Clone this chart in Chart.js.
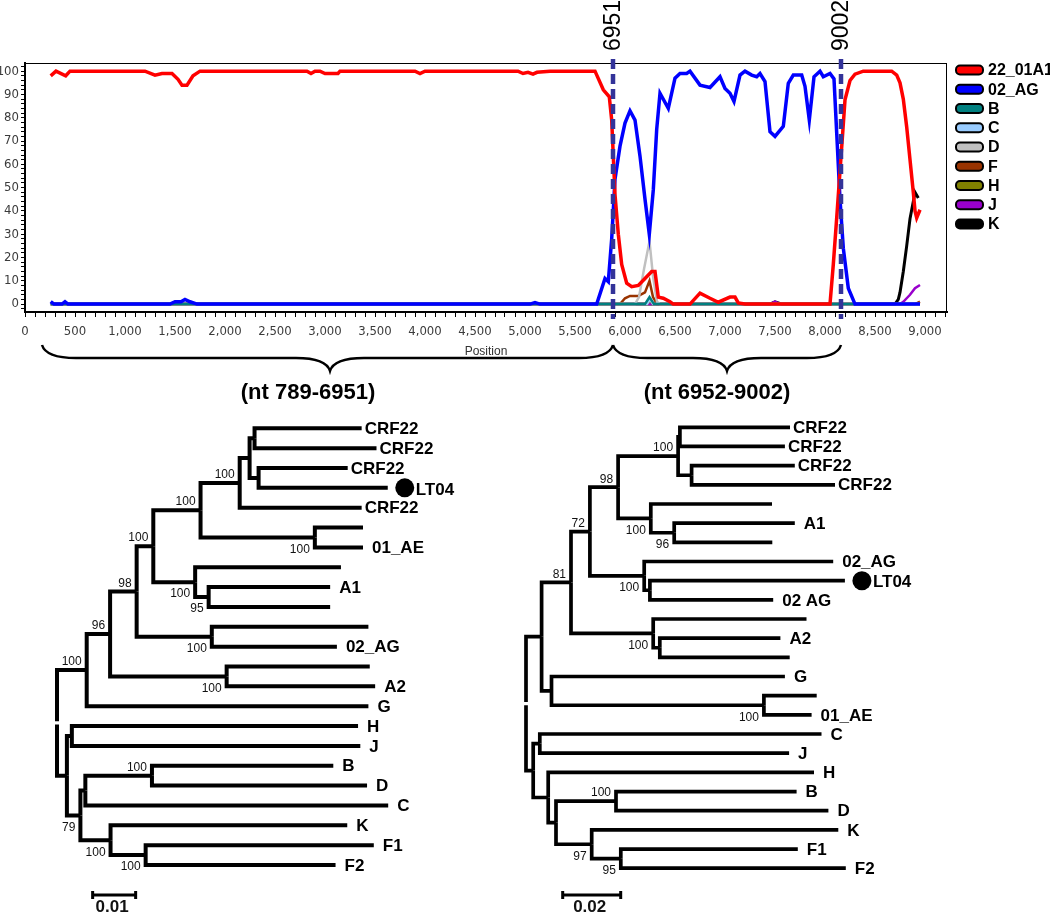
<!DOCTYPE html>
<html>
<head>
<meta charset="utf-8">
<script src="https://cdn.jsdelivr.net/npm/chart.js@4.4.1/dist/chart.umd.min.js"></script>
<style>
  html, body { margin: 0; padding: 0; background: #fff; }
  #wrap { position: relative; width: 1050px; height: 914px; overflow: hidden; }
  canvas { position: absolute; }
</style>
</head>
<body>
<div id="wrap">
  <canvas id="scan" width="1050" height="410" style="left:0;top:0"></canvas>
  <canvas id="treeL" width="500" height="504" style="left:0;top:410px"></canvas>
  <canvas id="treeR" width="550" height="504" style="left:500px;top:410px"></canvas>
</div>
<script>
// ---- bootscan data (position, % of permuted trees) ----
const seriesNames = ['22_01A1', '02_AG', 'B', 'C', 'D', 'F', 'H', 'J', 'K'];
const seriesColors = ['#ff0000', '#0000ff', '#008080', '#99ccff', '#c0c0c0', '#993300', '#808000', '#9900cc', '#000000'];

const s22_01A1 = [[257,98],[310,100],[407,98],[450,100],[1200,100],[1300,98.3],[1370,99],[1470,99],[1530,96.5],
  [1570,94],[1620,94],[1680,98],[1750,100],[2820,100],[2860,99],[2900,100],[2950,100],[3000,99],[3130,99],[3150,100],
  [3900,100],[3950,99],[4000,100],[4930,100],[4980,99],[5030,99.5],[5080,98.7],[5120,99.5],[5250,100],[5700,100],
  [5783,92],[5843,89],[5867,79],[5900,47],[5933,30],[5967,17],[6017,9],[6067,7.5],[6133,8],[6200,11],[6267,14],
  [6300,14],[6333,3],[6383,2.5],[6450,1],[6483,0],[6650,0],[6750,4.7],[6850,2.5],[6933,0.8],[7050,3],[7100,3],
  [7133,0.5],[7200,0],[8050,0],[8083,17],[8117,37],[8177,73.5],[8200,87.7],[8250,96],[8300,98.7],[8383,100],
  [8667,100],[8717,98.3],[8750,95],[8783,88],[8817,76],[8850,62],[8883,48],[8900,40],[8917,37],[8950,40.5]];
const s02_AG = [[257,1.1],[290,0],[370,0],[400,1],[430,0],[1450,0],[1500,1],[1560,1],[1600,2],[1650,1],[1720,0],
  [5050,0],[5100,0.6],[5150,0],[5717,0],[5800,11],[5833,9.6],[5867,28],[5900,53.6],[5950,67.8],[6000,77.7],
  [6050,83],[6100,79],[6150,63.5],[6200,45],[6243,30],[6283,49],[6317,75],[6350,90.5],[6433,84],[6500,97],
  [6550,99],[6617,99],[6650,100],[6750,94],[6850,93],[6950,97.6],[7000,92.6],[7050,90.5],[7090,87],[7150,98.3],
  [7200,100],[7267,98.3],[7317,97.6],[7350,99],[7400,95.5],[7450,74],[7500,72],[7583,76.3],[7633,94.8],
  [7683,98.3],[7767,98.3],[7800,93.5],[7843,79],[7890,97.6],[7950,100],[7983,97.6],[8050,99],[8090,96.7],
  [8117,73.5],[8150,45],[8183,24],[8233,6.8],[8300,0],[8950,0]];
const sB = [[257,0],[6200,0],[6245,3],[6290,0],[8950,0]];
const sC = [[257,0],[6220,0],[6250,2],[6280,0],[8950,0]];
const sD = [[257,0],[6100,0],[6140,3],[6190,15],[6245,27],[6280,12],[6320,1],[6350,0],[8950,0]];
const sF = [[257,0],[5950,0],[6000,2.5],[6050,3.5],[6133,3.5],[6200,5],[6245,10],[6280,3],[6320,0],[8900,0],[8950,1]];
const sH = [[257,0],[6220,0],[6250,1.5],[6280,0],[8950,0]];
const sJ = [[257,0],[7450,0],[7500,1],[7550,0],[8750,0],[8783,1],[8850,4],[8900,6.8],[8950,8.2]];
const sK = [[257,0],[7450,0],[7500,1],[7570,0],[8700,0],[8733,2],[8750,5],[8783,14],[8817,25],[8850,36.6],
  [8883,44],[8900,48],[8933,45.5]];
const seriesData = [s22_01A1, s02_AG, sB, sC, sD, sF, sH, sJ, sK];
const seriesWidths = [3.5, 3.5, 2.5, 2.5, 2.5, 2.5, 2.5, 2.5, 3];

// breakpoints (alignment position) and their HXB2 labels
const breakPos = [5880, 8160];
const breakLabels = ['6951', '9002'];
// braces under the axis: [start, end, tip] and the fragment names
const braceSpans = [[170, 5880, 3050], [5880, 8160, 7020]];
const fragmentLabels = ['(nt 789-6951)', '(nt 6952-9002)'];
const fragmentLabelPos = [2830, 6920];

// ---- neighbour-joining trees (Newick, bootstrap as node labels) ----
const treeLeft = '(((((((((CRF22:0.0238,CRF22:0.0271):0.0011,(CRF22:0.0198,LT04:0.0287):0.002):0.0022,CRF22:0.0271)100:0.0087,' +
  '(:0.0107,01_AE:0.0107)100:0.0254)100:0.0105,(:0.0324,(A1:0.027,:0.027)95:0.003)100:0.0093)100:0.0037,' +
  '(:0.0348,02_AG:0.0278)100:0.0167)98:0.0059,(:0.0318,A2:0.033)100:0.0259)96:0.0052,G:0.0626)100:0.0066,' +
  '((H:0.0636,J:0.0641):0.0011,(((B:0.0403,D:0.0478)100:0.0148,C:0.0673):0.0011,' +
  '(K:0.0526,(F1:0.0507,F2:0.0422)100:0.0078)100:0.0067)79:0.003):0.0022);';
const treeRight = '(((((((CRF22:0.0367,CRF22:0.035):0.0006,(CRF22:0.0344,CRF22:0.0478):0.0045)100:0.02,' +
  '(:0.0404,(A1:0.0402,:0.0327)96:0.0078)100:0.0109)98:0.0094,(02_AG:0.063,(LT04:0.065,02 AG:0.0411):0.0019)100:0.0181)72:0.0063,' +
  '(:0.0511,(A2:0.0402,:0.0433):0.0022)100:0.0274)81:0.0098,(G:0.0778,(:0.0176,01_AE:0.0159)100:0.0708):0.0033):0.0052,' +
  '((C:0.0939,J:0.0831):0.0022,(H:0.0886,((B:0.0602,D:0.0708)100:0.02,' +
  '(K:0.0822,(F1:0.059,F2:0.075)95:0.0097)97:0.0119):0.0026):0.005):0.0024);';

const SANS = '"Liberation Sans", Arial, sans-serif';
const NARROW = '"Liberation Sans Narrow", "DejaVu Sans Condensed", "Liberation Sans", Arial, sans-serif';

Chart.defaults.font.family = NARROW;
Chart.defaults.animation = false;
Chart.defaults.responsive = false;

function brace(ctx, x1, x2, xm, y, h) {
  const q = y + h / 2, r = 34;
  ctx.beginPath();
  ctx.moveTo(x1, y);
  ctx.quadraticCurveTo(x1 + 4, q, x1 + r, q);
  ctx.lineTo(xm - r, q);
  ctx.quadraticCurveTo(xm - 4, q, xm, y + h);
  ctx.quadraticCurveTo(xm + 4, q, xm + r, q);
  ctx.lineTo(x2 - r, q);
  ctx.quadraticCurveTo(x2 - 4, q, x2, y);
  ctx.stroke();
}

const scanOverlay = {
  id: 'scanOverlay',
  afterDatasetsDraw(chart) {
    const { ctx, chartArea: a, scales: { x } } = chart;
    ctx.save();
    // frame
    ctx.strokeStyle = '#000';
    ctx.lineWidth = 1;
    ctx.strokeRect(a.left + 0.5, a.top + 0.5, a.right - a.left - 1, a.bottom - a.top);

    // breakpoints
    ctx.strokeStyle = '#333399';
    ctx.lineWidth = 4.5;
    ctx.setLineDash([10, 5]);
    breakPos.forEach(p => {
      const px = x.getPixelForValue(p);
      ctx.beginPath();
      ctx.moveTo(px, a.top - 4);
      ctx.lineTo(px, a.bottom + 7);
      ctx.stroke();
    });
    ctx.setLineDash([]);
    ctx.fillStyle = '#000';
    ctx.font = '23px ' + SANS;
    ctx.textAlign = 'left';
    ctx.textBaseline = 'middle';
    breakPos.forEach((p, i) => {
      ctx.save();
      ctx.translate(x.getPixelForValue(p) + 1, a.top - 12);
      ctx.rotate(-Math.PI / 2);
      ctx.fillText(breakLabels[i], 0, 0);
      ctx.restore();
    });

    // legend
    ctx.font = 'bold 16px ' + SANS;
    seriesNames.forEach((name, i) => {
      const y = 70 + i * 19.25;
      ctx.beginPath();
      ctx.roundRect(956, y - 4.5, 27, 9, 4);
      ctx.fillStyle = seriesColors[i];
      ctx.fill();
      ctx.lineWidth = 2;
      ctx.strokeStyle = '#000';
      ctx.stroke();
      ctx.fillStyle = '#000';
      ctx.fillText(name, 988, y + 1);
    });

    // axis title
    ctx.font = '12px ' + SANS;
    ctx.fillStyle = '#333';
    ctx.textAlign = 'center';
    ctx.fillText('Position', (a.left + a.right) / 2, 352);

    // braces + fragment labels
    ctx.strokeStyle = '#000';
    ctx.lineWidth = 2.5;
    braceSpans.forEach(s => {
      brace(ctx, x.getPixelForValue(s[0]), x.getPixelForValue(s[1]), x.getPixelForValue(s[2]), 345, 26);
    });
    ctx.fillStyle = '#000';
    ctx.font = 'bold 22px ' + SANS;
    fragmentLabels.forEach((t, i) => ctx.fillText(t, x.getPixelForValue(fragmentLabelPos[i]), 393));
    ctx.restore();
  }
};

new Chart(document.getElementById('scan'), {
  type: 'line',
  data: {
    datasets: seriesNames.map((name, i) => ({
      label: name,
      data: seriesData[i].map(p => ({ x: p[0], y: p[1] })),
      borderColor: seriesColors[i],
      borderWidth: seriesWidths[i],
      pointRadius: 0,
      tension: 0,
      fill: false
    }))
  },
  options: {
    layout: { padding: { top: 63, right: 103, left: 0, bottom: 0 } },
    plugins: { legend: { display: false }, tooltip: { enabled: false } },
    scales: {
      x: {
        type: 'linear', min: 0, max: 9220,
        afterFit: s => { s.height = 98; },
        grid: { drawOnChartArea: false, tickLength: 5, color: '#000' },
        border: { color: '#000', width: 2 },
        ticks: {
          stepSize: 100, autoSkip: false, maxRotation: 0, includeBounds: false, padding: 7,
          color: '#3b3b3b', font: { size: 13 },
          callback: v => v % 500 === 0 ? v.toLocaleString('en-US') : ''
        }
      },
      y: {
        min: -3.4, max: 103.5,
        afterFit: s => { s.width = 25; },
        grid: { drawOnChartArea: false, tickLength: 4, color: '#000' },
        border: { color: '#000', width: 2 },
        ticks: {
          stepSize: 2, autoSkip: false, includeBounds: false, padding: 2,
          color: '#3b3b3b', font: { size: 13 },
          callback: v => (v >= 0 && v <= 100 && v % 10 === 0) ? String(v) : ''
        }
      }
    }
  },
  plugins: [scanOverlay]
});

// ---- tree helpers ----
function parseNewick(str) {
  let i = 0;
  function read() {
    const node = { children: [], name: '', len: 0 };
    if (str[i] === '(') {
      i++;
      node.children.push(read());
      while (str[i] === ',') { i++; node.children.push(read()); }
      i++;
    }
    let label = '';
    while (i < str.length && ',();'.indexOf(str[i]) < 0) label += str[i++];
    const k = label.lastIndexOf(':');
    node.name = k < 0 ? label : label.slice(0, k);
    node.len = k < 0 ? 0 : parseFloat(label.slice(k + 1));
    node.children.forEach(c => { c.parent = node; });
    return node;
  }
  return read();
}

function place(node, depth, leaves) {
  node.x = depth + node.len;
  if (node.children.length) {
    node.children.forEach(c => place(c, node.x, leaves));
    node.y = (node.children[0].y + node.children[node.children.length - 1].y) / 2;
  } else {
    node.y = leaves.length;
    leaves.push(node);
  }
}

function allNodes(node, out) {
  out.push(node);
  node.children.forEach(c => allNodes(c, out));
  return out;
}

function buildTree(id, newick, o) {
  const root = parseNewick(newick);
  const leaves = [];
  place(root, 0, leaves);
  const nodes = allNodes(root, []);
  const canvas = document.getElementById(id);
  const W = canvas.width, H = canvas.height;

  // one elbow per branch
  const datasets = [];
  nodes.forEach(n => n.children.forEach(c => {
    let y0 = n.y;
    if (n === root) y0 += (c.y < n.y ? -1 : 1) * o.rootGap;
    datasets.push({
      data: [{ x: n.x, y: y0 }, { x: n.x, y: c.y }, { x: c.x, y: c.y }],
      showLine: true, borderColor: '#000', borderWidth: o.lineWidth,
      pointRadius: 0, borderJoinStyle: 'miter', borderCapStyle: 'butt', fill: false
    });
  }));

  const labels = {
    id: 'treeLabels',
    afterDatasetsDraw(chart) {
      const { ctx, scales: { x, y } } = chart;
      const px = v => x.getPixelForValue(v), py = v => y.getPixelForValue(v);
      ctx.save();
      ctx.fillStyle = '#000';
      ctx.textBaseline = 'middle';
      ctx.textAlign = 'left';
      ctx.font = 'bold 17px ' + SANS;
      leaves.forEach(l => {
        if (!l.name) return;
        const lx = px(l.x), ly = py(l.y);
        if (l.name === 'LT04') {
          ctx.beginPath();
          ctx.arc(lx + 17, ly, 9.5, 0, Math.PI * 2);
          ctx.fill();
          ctx.fillText(l.name, lx + 28, ly + 2);
        } else {
          ctx.fillText(l.name, lx + (l.name === 'CRF22' ? 3 : 9), ly + 1);
        }
      });
      // bootstrap values
      ctx.font = '12px ' + SANS;
      ctx.fillStyle = '#111';
      ctx.textAlign = 'right';
      nodes.forEach(n => {
        if (!n.children.length || !n.parent || !n.name) return;
        const first = n.parent.children[0] === n;
        ctx.textBaseline = first ? 'bottom' : 'top';
        ctx.fillText(n.name, px(n.x) - 5, py(n.y) + (first ? -2 : 6));
      });
      // scale bar
      const bx1 = px(o.barStart), bx2 = px(o.barStart + o.barLen), by = py(o.barRow);
      ctx.strokeStyle = '#000';
      ctx.lineWidth = 3;
      ctx.beginPath();
      ctx.moveTo(bx1, by); ctx.lineTo(bx2, by);
      ctx.moveTo(bx1 + 1, by - 4); ctx.lineTo(bx1 + 1, by + 4);
      ctx.moveTo(bx2 - 1, by - 4); ctx.lineTo(bx2 - 1, by + 4);
      ctx.stroke();
      ctx.font = 'bold 17px ' + SANS;
      ctx.textAlign = 'center';
      ctx.textBaseline = 'top';
      ctx.fillText(o.barLabel, (bx1 + bx2) / 2 - 2, by + 4);
      ctx.restore();
    }
  };

  new Chart(canvas, {
    type: 'scatter',
    data: { datasets },
    options: {
      layout: { padding: 0 },
      plugins: { legend: { display: false }, tooltip: { enabled: false } },
      scales: {
        x: { type: 'linear', display: false, min: -o.rootPx / o.unitPx, max: (W - o.rootPx) / o.unitPx },
        y: { type: 'linear', display: false, reverse: true,
             min: -o.firstRowPx / o.rowPx, max: (H - o.firstRowPx) / o.rowPx }
      }
    },
    plugins: [labels]
  });
}

buildTree('treeL', treeLeft, {
  rootPx: 57, unitPx: 4500, firstRowPx: 18.3, rowPx: 19.85, lineWidth: 4, rootGap: 0.08,
  barStart: 0.0077, barLen: 0.01, barRow: 23.51, barLabel: '0.01'
});
buildTree('treeR', treeRight, {
  rootPx: 26, unitPx: 3000, firstRowPx: 17.3, rowPx: 19.17, lineWidth: 3.7, rootGap: 0.08,
  barStart: 0.0119, barLen: 0.02, barRow: 24.4, barLabel: '0.02'
});
</script>
</body>
</html>
